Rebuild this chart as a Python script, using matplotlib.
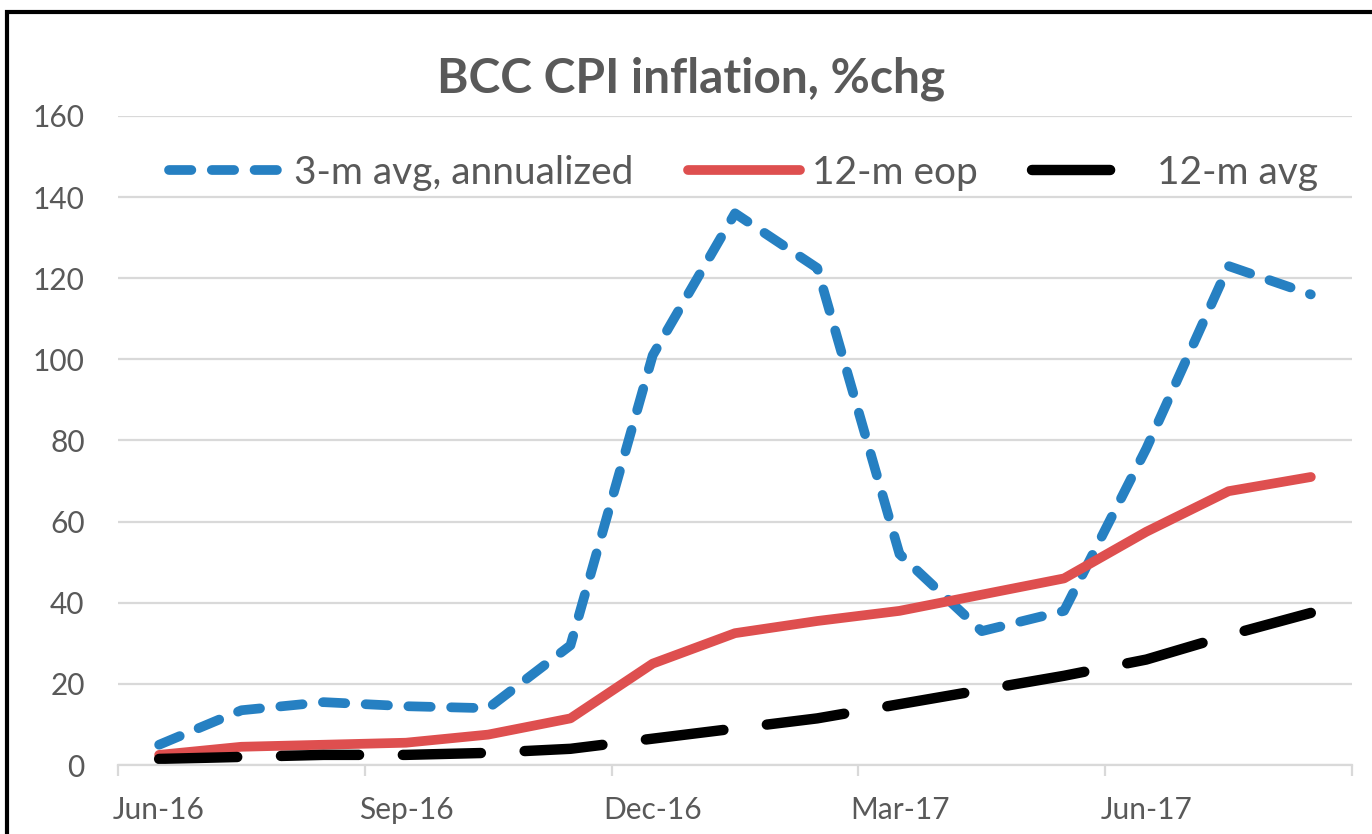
import matplotlib
matplotlib.use("Agg")
import matplotlib.pyplot as plt
from matplotlib.patches import Rectangle

months = ["Jun-16", "Jul-16", "Aug-16", "Sep-16", "Oct-16", "Nov-16", "Dec-16",
          "Jan-17", "Feb-17", "Mar-17", "Apr-17", "May-17", "Jun-17", "Jul-17", "Aug-17"]
avg3m_ann = [5, 13.5, 15.5, 14.5, 14, 29.5, 101, 136, 122.5, 52, 33, 38, 78, 123, 116]
eop12m = [2.5, 4.5, 5, 5.5, 7.5, 11.5, 25, 32.5, 35.5, 38, 42, 46, 57.5, 67.5, 71]
avg12m = [1.5, 2, 2.5, 2.5, 3, 4, 6.5, 9, 11.5, 15, 18.5, 22, 26, 32, 37.5]

grey_txt = "#595959"
grid_c = "#D9D9D9"
plt.rcParams['font.family'] = ['Lato', 'DejaVu Sans']

fig = plt.figure(figsize=(13.72, 8.34), dpi=100)
ax = fig.add_axes([0.086, 0.0827, 0.8994, 0.7783])

x = list(range(len(months)))
ax.plot(x, avg3m_ann, color="#2680C2", lw=7, dashes=(2.3, 2.1),
        dash_capstyle='round', solid_joinstyle='round', label="3-m avg, annualized")
ax.plot(x, eop12m, color="#DE4F4F", lw=7, solid_capstyle='round',
        solid_joinstyle='round', label="12-m eop")
ax.plot(x, avg12m, color="black", lw=7.5, dashes=(7.5, 4.2),
        dash_capstyle='round', label="12-m avg")

ax.set_xlim(-0.5, len(months) - 0.5)
ax.set_ylim(0, 160)
ax.set_yticks(range(0, 161, 20))
ax.yaxis.grid(True, color=grid_c, lw=1.6)
ax.set_axisbelow(True)

# labels every quarter, tick marks on category boundaries
ax.set_xticks(x[::3])
ax.set_xticklabels(months[::3])
ax.set_xticks([i - 0.5 for i in range(0, len(months) + 1, 3)], minor=True)
ax.tick_params(axis='x', which='major', length=0, pad=22, labelsize=21.5, labelcolor=grey_txt)
ax.tick_params(axis='x', which='minor', length=8, width=1.6, color=grid_c)
ax.tick_params(axis='y', length=0, pad=24, labelsize=21.5, labelcolor=grey_txt)

for s in ['left', 'right', 'top']:
    ax.spines[s].set_visible(False)
ax.spines['bottom'].set_color(grid_c)
ax.spines['bottom'].set_linewidth(1.6)

fig.text(0.504, 0.906, "BCC CPI inflation, %chg", ha='center', va='center',
         fontsize=34.5, fontweight='bold', color=grey_txt)

ax.legend(loc='center', bbox_to_anchor=(0.507, 0.912), ncol=3, frameon=False,
          fontsize=28, labelcolor=grey_txt, handlelength=2.9, handletextpad=0.3,
          columnspacing=1.4, borderaxespad=0)

# outer chart frame (only left and top visible in the crop)
fig.patches.append(Rectangle((0.005, -0.2), 1.3, 1.186, transform=fig.transFigure,
                             fill=False, edgecolor='black', lw=3))

fig.savefig("out.png", dpi=100)
